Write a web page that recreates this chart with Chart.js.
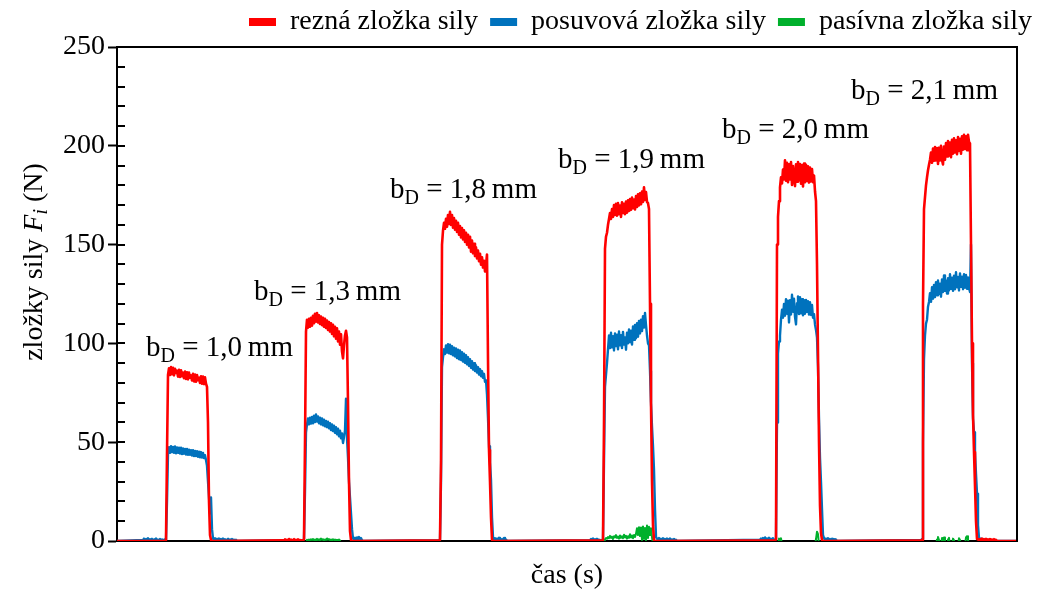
<!DOCTYPE html>
<html>
<head>
<meta charset="utf-8">
<script src="https://cdn.jsdelivr.net/npm/chart.js@4.4.1/dist/chart.umd.min.js"></script>
<style>
  html, body { margin: 0; padding: 0; background: #fff; }
  .force-chart-wrapper { width: 1054px; height: 594px; }
</style>
</head>
<body>
<div class="force-chart-wrapper"><canvas id="forceChart"></canvas></div>
<script>
// one value of the dynamometer record every 0.1 s
const sampleStep = 0.1;
const timeMax = 90;

const seriesNames = ["rezná zložka sily", "posuvová zložka sily", "pasívna zložka sily"];
const seriesColours = ["#ff0000", "#0072bd", "#00b02c"];

//cutting force, start time of each recorded piece (s) and its values (N)
const reznaStart = [4.8, 16.6, 32.2, 48.5, 65.8, 80.4];
const rezna1 = [0, 0.5, 44, 84, 87.4, 84, 88, 84.4, 87.6, 83.8, 87.2, 85, 86.2, 83.2, 86.6, 83, 86.4, 83.4, 85.2, 82.4, 85.8, 82, 85.4, 81.8, 85.2, 82.6, 83.8, 81.2, 84.6, 80.8, 84.2, 80.6, 84, 81.4, 82.6, 80, 83.4, 79.6, 83.2, 79.4, 82.8, 79.6, 78, 60, 20, 3, 0.5, 0];
const rezna2 = [0.4, 0, 0.8, 0.2, 0.6, 0, 1, 0.3, 0.7, 0, 0.5, 0.9, 0.2, 0.6, 0, 0.8, 0.3, 0.5, 0, 0.4,
  0.4, 0.8, 50, 106, 112, 108, 112.4, 108.4, 113, 109, 114, 110.2, 115, 111, 115.4, 110.6, 114.2, 109.8, 113.6, 109.2, 113, 108.4, 112.4, 107.8, 111.6, 106.8, 110.8, 106, 110.2, 104.8, 109.4, 103.6, 108.4, 102.4, 107.6, 101, 106, 99.4, 104.6, 96, 92.4, 99, 104, 106.4, 103, 70, 30, 5, 0.5, 0];
const rezna3 = [0.3, 0.6, 40, 150, 157, 161, 158, 163, 159, 165, 160.4, 166.6, 160, 165, 158.6, 163.4, 157.6, 162, 156.4, 161, 155, 159.4, 153.6, 158.4, 152.6, 157.2, 151.4, 156, 150, 155, 148.6, 154, 146.4, 152, 145.6, 150.4, 144.2, 148.6, 143, 147, 141.6, 145.4, 139.8, 143.6, 138.4, 141.8, 136.4, 139.6, 145, 92, 46, 30, 12, 0.5, 0];
const rezna4 = [0.3, 0.6, 60, 148, 154, 156, 160, 163, 166, 163, 168, 164, 170, 165, 170.6, 164.6, 171, 165.4, 169.8, 164, 171.4, 166, 170.6, 165.4, 171.8, 166.2, 172.4, 167, 173, 167.6, 173.8, 168.4, 172.8, 167.8, 174.6, 169, 175.4, 169.8, 176, 170.4, 176.8, 171.6, 179, 172.6, 176.6, 171.6, 171, 168, 120, 70, 30, 8, 0.5, 0];
const rezna5 = [0.3, 0.8, 150, 164, 172, 179, 184, 181, 188, 183, 192.6, 182.4, 191.4, 181.6, 190.6, 183, 191.8, 180.2, 189.8, 184, 179.6, 190.6, 181.8, 191.8, 182.6, 190.8, 180.8, 190.2, 179.4, 191, 181.6, 190.4, 182.2, 189.6, 181.4, 189, 182, 188.2, 181.6, 185, 177, 172, 140, 95, 50, 18, 4, 0.5, 0];
const rezna6 = [0.3, 0.6, 120, 168, 174, 180, 184, 187.6, 190.4, 193, 196.6, 191.4, 198.6, 192.4, 199.4, 192.6, 198.8, 190.8, 199, 192.6, 200, 192.8, 190.6, 199.6, 193, 201.4, 194.6, 202.4, 195, 201.6, 194.2, 203, 196, 203.8, 196.6, 202.8, 195.8, 204.4, 197.4, 203.6, 196, 204.8, 198, 205.6, 198.4, 204.8, 197.8, 205.6, 202, 201.2, 150, 100, 64, 45, 28, 10, 1,
  0.8, 0.3, 1, 0.5, 1.2, 0.4, 0.9, 0.3, 1.1, 0.6, 0.8, 0.2, 1, 0.5, 0.7, 0.3, 0.9, 0.4, 0.6, 0];

//feed force
const posuvStart = [2.6, 18.6, 32.2, 47.3, 64.3, 80.4];
const posuv1 = [0.5, 1.2, 0.4, 1, 0.6, 1.4, 0.3, 0.9, 0.5, 1.1, 0.2, 0.8, 0.6, 1.3, 0.4, 0.7, 0.3, 1, 0.5, 0.8, 0.4, 0.6,
  0.8, 0.6, 20, 44, 47.5, 44.6, 48, 45, 47.6, 44.6, 47.8, 44.4, 47.4, 44.6, 47.2, 44.2, 47.2, 44, 46.8, 44.2, 46.6, 43.8, 46.6, 43.6, 46.2, 43.6, 46, 43.2, 46, 43, 45.6, 43, 45.4, 42.6, 45.2, 42.4, 45, 42.2, 44.6, 42, 43.4, 41, 38, 30, 22, 14, 22, 6,
  1.2, 0.6, 1.4, 0.5, 1.1, 0.4, 1.3, 0.6, 1, 0.3, 1.2, 0.5, 0.9, 0.3, 0.7, 1.1, 0.4, 0.8, 0.3, 1, 0.5, 0.7, 0.2, 0.6, 0];
const posuv2 = [0.5, 1, 25, 55, 59, 62, 59, 62.4, 59.4, 62.8, 59.6, 63.4, 60.2, 64, 60.4, 63, 59.6, 62.4, 59, 62, 58.6, 61.4, 58, 60.8, 57.6, 60.4, 57, 59.6, 56.2, 59, 55.6, 58.4, 54.8, 57.6, 54, 56.8, 53, 55.8, 52, 54.4, 49.6, 52.6, 56, 72, 52, 42, 30, 22, 14, 6,
  1.2, 0.8, 1.6, 0.7, 1.8, 0.9, 2, 1, 1.5, 0.4, 0];
const posuv3 = [0.4, 0.8, 30, 88, 93, 97, 94.6, 99, 95.4, 99.6, 95, 99.4, 94.6, 98.6, 94, 97.8, 93.4, 97.4, 92.6, 96.8, 92, 96.4, 91.6, 95.6, 90.8, 94.8, 90.2, 94, 89.4, 93, 88.6, 92, 87.6, 91, 86.8, 90, 86, 89, 85.2, 88, 84.2, 87, 83.4, 86, 82.6, 84.6, 80.6, 81.4, 74, 62, 48, 40, 31, 12, 2,
  0.8, 1.4, 0.5, 1.2, 0.6, 1.6, 0.5, 1, 0.4, 0.9, 1.5, 0.4, 0.8, 0];
const posuv4 = [0.4, 1, 0.6, 1.3, 0.3, 0.9, 0.5, 1.1, 0.4, 0.7, 0.2, 0.5,
  0.3, 0.8, 40, 78, 84, 90, 97, 104, 97.6, 105.4, 98, 103.6, 96.4, 105, 98.6, 104.4, 97, 106, 99, 104.2, 97.6, 105.8, 99.4, 103, 96.8, 105.4, 100, 107, 100.6, 106.4, 99.4, 108.6, 101.8, 109.4, 102.6, 110.2, 103.4, 111.4, 105, 112, 106.2, 113.8, 108, 115.4, 109.4, 104, 100, 99, 86, 70, 58, 48, 36, 16, 2,
  1.2, 0.6, 1.5, 0.5, 1.1, 0.4, 1.4, 0.7, 1, 0.3, 1.2, 0.5, 0.9, 1.3, 0.4, 0.8, 0.3, 1, 0.4, 0.6, 0];
const posuv5 = [0.6, 1.2, 0.4, 1.5, 0.8, 1.8, 0.5, 1.3, 0.7, 1.6, 0.4, 1.1, 0.8, 1.4, 0.5,
  0.4, 1, 60, 95, 101, 104, 112, 117, 113, 120, 114, 122.4, 115, 121.6, 110.6, 121.8, 114.6, 124.6, 116, 122.6, 113.4, 109.6, 120.4, 123.8, 114.8, 123.4, 115.2, 122.4, 114.2, 121.8, 115, 122, 116, 121.4, 114.6, 120.8, 114.4, 119.4, 113, 114.8, 109.6, 106.8, 103, 88, 62, 42, 30, 16, 3,
  1.5, 0.6, 1.2, 0.4, 1.4, 0.6, 1, 0.3, 1.1, 0.5, 0.9, 0.3, 0.7, 0];
const posuv6 = [0.5, 1, 50, 92, 104, 110, 112, 118.6, 121, 125.4, 121, 128.4, 122.6, 129.6, 123.4, 131, 124.4, 131.8, 125, 130.2, 123.6, 132.4, 126, 134.4, 126.6, 131.8, 125.2, 133, 126.8, 135, 127.6, 133.2, 126.6, 134.2, 127.4, 136, 128.4, 133.6, 126.8, 135.4, 128.6, 133.8, 127.4, 135, 128.2, 134.6, 127.6, 133.4, 128, 126, 150, 90, 62, 55, 45, 34, 24, 8,
  1.5, 0.6, 1.2, 0.4, 1, 0.5, 0.8, 0.3, 0.6, 0];

//passive force, below zero (hidden under the axis) outside these pieces
const pasivRest = -2;
const pasivStart = [18.9, 48.7, 66.1, 69.8, 81.9];
const pasiv1 = [-2, 0.6, 0.3, 0.8, 0.4, 0.9, 0.5, 1, 0.4, 0.8, 0.3, 1.1, 0.5, 0.9, 0.4, 1.2, 0.6, 0.9, 0.3, 0.8, 0.5, 1.3, 0.6, 1, 0.4, 0.8, 0.3, 0.9, 0.5, 0.7, 0.3, 0.6, 0.4, 0.8, 0.3, -2];
const pasiv2 = [-2, 0.8, 1.5, 1.2, 2, 1.4, 2.6, 1.6, 2.2, 1, 2.4, 1.8, 3, 1.5, 2.2, 1.2, 2.8, 1.6, 2.4, 1.4, 3.2, 1.8, 2.6, 1.2, 2.4, 1.6, 3.4, 1.8, 2.8, 1.4, 3, 2, 3.6, 6.5, 3, 7, 2.5, 6.8, 0.5, 7.4, 1, 6.6, 0.4, 7.8, 1.5, 7.2, 3, 6.4, 2, -2];
const pasiv3 = [-2, 1.2, 0.6, 1.4, -2];
const pasiv4 = [-2, 1, 4.7, 3.5, -2];
const pasiv5 = [-2, 0.8, 2, 0.5, -2, -2, 1.5, 0.4, 1.8, -2, -2, -2, 0.6, 1.6, -2, -2, -2, 1.2, 0.4, -2, -2, -2, -2, 1.4, 0.5, -2, -2, -2, -2, -2, 1.8, 2.4, 0.6, -2];

//labels of the cut width b_D: text, time (s) and force (N) of the text baseline centre
const bdValues = ["1,0", "1,3", "1,8", "1,9", "2,0", "2,1"];
const bdTime = [10.25, 21.05, 34.65, 51.45, 67.85, 80.75];
const bdForce = [93.6, 122, 173.6, 188.8, 204, 223.7];

const SERIF = '"Liberation Serif", "Times New Roman", serif';

function piece(start, values) {
  return values.map((v, i) => ({ x: +(start + i * sampleStep).toFixed(2), y: v }));
}

function record(starts, pieces, rest) {
  let pts = [{ x: 0, y: rest }];
  starts.forEach((s, k) => { pts = pts.concat(piece(s, pieces[k])); });
  pts.push({ x: timeMax, y: rest });
  return pts;
}

//text made of runs with different fonts (subscripts, italic)
function drawRuns(ctx, runs, x, y, align) {
  let w = 0;
  runs.forEach(r => { ctx.font = r.font; w += ctx.measureText(r.text).width; });
  let cx = align === "center" ? x - w / 2 : x;
  runs.forEach(r => {
    ctx.font = r.font;
    ctx.fillText(r.text, cx, y + (r.dy || 0));
    cx += ctx.measureText(r.text).width;
  });
}

const decor = {
  id: "decor",
  afterDatasetsDraw(chart) {
    const { ctx, chartArea: a, scales } = chart;
    const x = scales.x, y = scales.y;
    ctx.save();

    //inner ticks every 10 N and the top/right frame
    ctx.strokeStyle = "#000";
    ctx.lineWidth = 2;
    ctx.beginPath();
    for (let v = 10; v <= 250; v += 10) {
      const py = Math.round(y.getPixelForValue(v));
      ctx.moveTo(a.left, py);
      ctx.lineTo(a.left + 8, py);
    }
    ctx.moveTo(a.left - 1, a.top);
    ctx.lineTo(a.right, a.top);
    ctx.lineTo(a.right, a.bottom + 1);
    ctx.stroke();

    ctx.fillStyle = "#000";
    ctx.textBaseline = "alphabetic";

    //b_D labels
    bdValues.forEach((txt, i) => {
      drawRuns(ctx, [
        { text: "b", font: "29px " + SERIF },
        { text: "D", font: "20px " + SERIF, dy: 6 },
        { text: " = " + txt + "\u2009mm", font: "29px " + SERIF }
      ], x.getPixelForValue(bdTime[i]), y.getPixelForValue(bdForce[i]), "center");
    });

    //axis titles
    drawRuns(ctx, [{ text: "čas (s)", font: "28px " + SERIF }], (a.left + a.right) / 2, 583, "center");

    ctx.translate(42, 262);
    ctx.rotate(-Math.PI / 2);
    drawRuns(ctx, [
      { text: "zložky sily ", font: "28px " + SERIF },
      { text: "F", font: "italic 28px " + SERIF },
      { text: "i", font: "italic 20px " + SERIF, dy: 5 },
      { text: " (N)", font: "28px " + SERIF }
    ], 0, 0, "center");

    ctx.restore();
  }
};

function buildChart() {
  const canvas = document.getElementById("forceChart");
  const ctx = canvas.getContext("2d");

  const reznaPieces = [rezna1, rezna2, rezna3, rezna4, rezna5, rezna6];
  const posuvPieces = [posuv1, posuv2, posuv3, posuv4, posuv5, posuv6];
  const pasivPieces = [pasiv1, pasiv2, pasiv3, pasiv4, pasiv5];

  const lineStyle = { pointRadius: 0, tension: 0, borderJoinStyle: "round", fill: false };

  new Chart(ctx, {
    type: "line",
    data: {
      datasets: [
        { label: seriesNames[0], data: record(reznaStart, reznaPieces, 0), borderColor: seriesColours[0], backgroundColor: seriesColours[0], borderWidth: 2.6, ...lineStyle },
        { label: seriesNames[1], data: record(posuvStart, posuvPieces, 0), borderColor: seriesColours[1], backgroundColor: seriesColours[1], borderWidth: 2.4, ...lineStyle },
        { label: seriesNames[2], data: record(pasivStart, pasivPieces, pasivRest), borderColor: seriesColours[2], backgroundColor: seriesColours[2], borderWidth: 2, ...lineStyle }
      ]
    },
    options: {
      responsive: true,
      maintainAspectRatio: false,
      animation: false,
      layout: { padding: { top: -4, right: 10, bottom: 0, left: 0 } },
      plugins: {
        tooltip: { enabled: false },
        legend: {
          display: true,
          align: "end",
          labels: {
            color: "#000",
            font: { family: SERIF, size: 28 },
            boxWidth: 27,
            boxHeight: 8,
            padding: 12,
            generateLabels: chart => Chart.defaults.plugins.legend.labels.generateLabels(chart).map(l => ({ ...l, lineWidth: 0 }))
          }
        }
      },
      scales: {
        x: {
          type: "linear",
          min: 0,
          max: timeMax,
          ticks: { display: false },
          grid: { display: false },
          border: { display: true, color: "#000", width: 2 },
          afterFit: s => { s.height = 53; }
        },
        xTop: {
          type: "linear",
          position: "top",
          display: true,
          ticks: { display: false },
          grid: { display: false },
          border: { display: false },
          afterFit: s => { s.height = 1; }
        },
        y: {
          min: 0,
          max: 250,
          ticks: {
            stepSize: 50,
            color: "#000",
            padding: 3,
            font: { family: SERIF, size: 28 }
          },
          grid: {
            display: true,
            drawOnChartArea: false,
            drawTicks: true,
            tickLength: 9,
            tickWidth: 2,
            tickColor: "#000"
          },
          border: { display: true, color: "#000", width: 2 },
          afterFit: s => { s.width = 117; }
        },
        yRight: {
          position: "right",
          display: true,
          ticks: { display: false },
          grid: { display: false },
          border: { display: false },
          afterFit: s => { s.width = 27; }
        }
      }
    },
    plugins: [decor]
  });
}

document.addEventListener("DOMContentLoaded", buildChart);
</script>
</body>
</html>
